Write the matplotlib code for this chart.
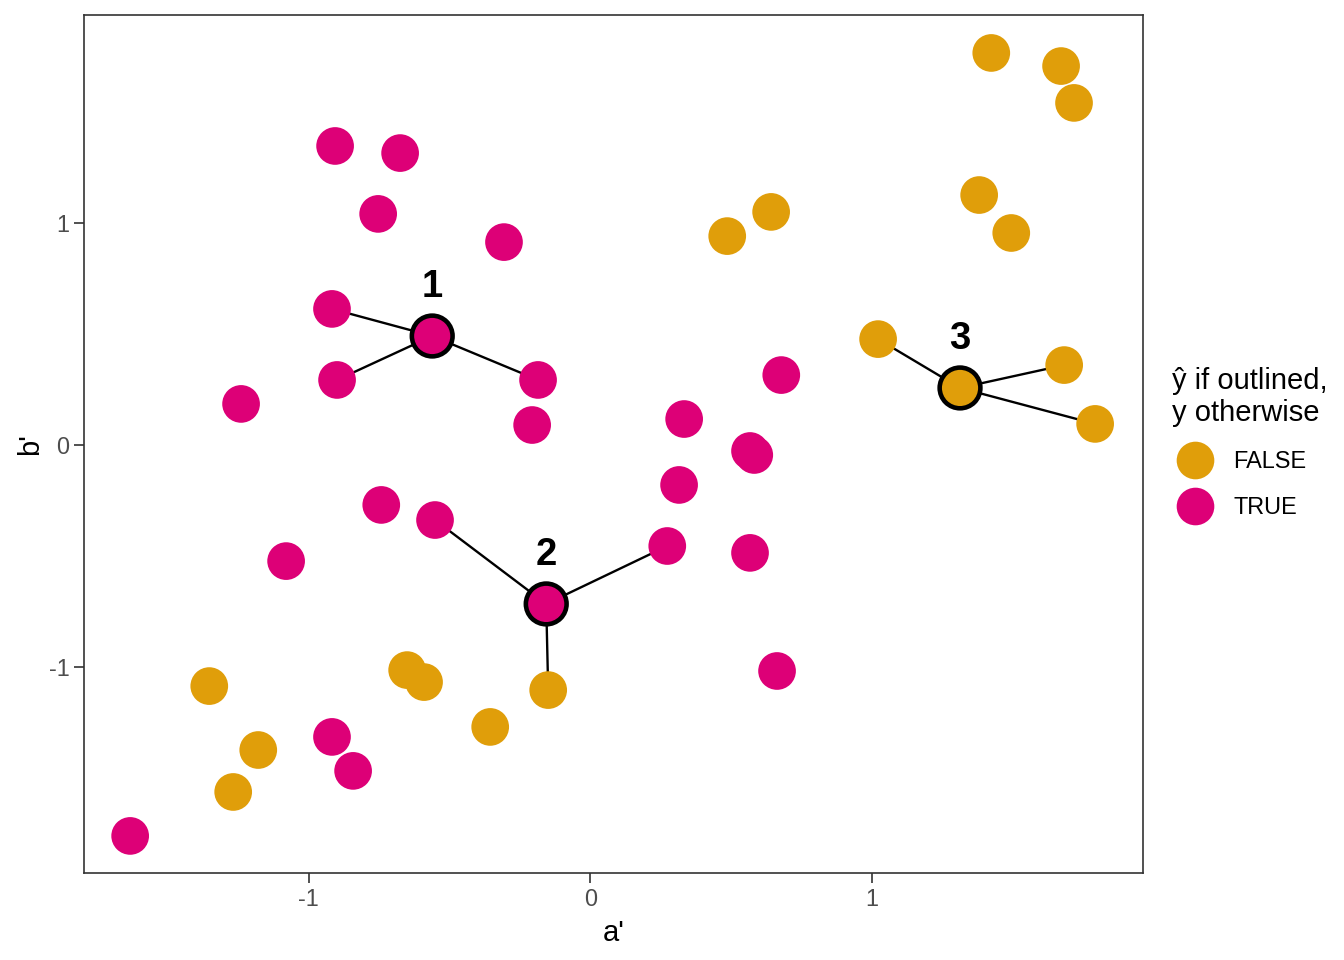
import matplotlib
matplotlib.use("Agg")
import matplotlib.pyplot as plt
from matplotlib.lines import Line2D

plt.rcParams['font.family'] = ['Liberation Sans', 'DejaVu Sans']

# ---- data ----
a_vals = [-0.906, -0.675, -0.753, -0.306, -0.917, -0.899, -0.185, -0.206, -1.240,
          -0.742, -0.551, -1.080, 0.274, 0.316, 0.334, 0.568, 0.583, 0.679, 0.568,
          0.664, -0.917, -0.842, -1.634,
          1.425, 1.673, 1.719, 1.382, 1.496, 0.643, 0.487, 1.023, 1.684, 1.794,
          -1.353, -1.179, -1.268, -0.650, -0.590, -0.355, -0.149]
b_vals = [1.347, 1.315, 1.041, 0.914, 0.613, 0.293, 0.293, 0.090, 0.185,
          -0.270, -0.338, -0.523, -0.455, -0.180, 0.117, -0.027, -0.045, 0.315, -0.486,
          -1.018, -1.315, -1.468, -1.761,
          1.766, 1.707, 1.541, 1.126, 0.955, 1.050, 0.941, 0.477, 0.360, 0.095,
          -1.086, -1.374, -1.563, -1.014, -1.068, -1.270, -1.104]
y_vals = [True] * 23 + [False] * 17

query_a = [-0.561, -0.156, 1.314]
query_b = [0.491, -0.716, 0.257]
query_pred = [True, True, False]
query_labels = ["1", "2", "3"]
query_neighbors = [[4, 5, 6], [10, 12, 39], [30, 31, 32]]

colors = {False: "#E09E0A", True: "#DD0077"}
legend_labels = ["FALSE", "TRUE"]

# ---- figure ----
fig = plt.figure(figsize=(13.44, 9.6), dpi=100)
ax = fig.add_axes([84 / 1344, 87 / 960, (1143 - 84) / 1344, (873 - 15) / 960])

# segments from query points to neighbours
for qa, qb, nbrs in zip(query_a, query_b, query_neighbors):
    for n in nbrs:
        ax.plot([qa, a_vals[n]], [qb, b_vals[n]], color="black", lw=1.7, zorder=1,
                solid_capstyle="butt")

# points
ax.scatter(a_vals, b_vals, s=736, c=[colors[v] for v in y_vals],
           edgecolors="none", zorder=2)

# outlined query points
ax.scatter(query_a, query_b, s=860, c=[colors[v] for v in query_pred],
           edgecolors="black", linewidths=3.3, zorder=3)

for qa, qb, lab in zip(query_a, query_b, query_labels):
    ax.text(qa, qb + 0.176, lab, ha="center", va="baseline", fontsize=27.5,
            fontweight="bold", color="black", zorder=4)

ax.set_xlim(-1.798, 1.964)
ax.set_ylim(-1.928, 1.937)
ax.set_xticks([-1, 0, 1])
ax.set_yticks([-1, 0, 1])
ax.set_xticklabels(["-1", "0", "1"])
ax.set_yticklabels(["-1", "0", "1"])
ax.tick_params(axis="both", length=7, width=1.2, color="#333333",
               labelsize=16.9, labelcolor="#4D4D4D", pad=3.5)
for sp in ax.spines.values():
    sp.set_color("#333333")
    sp.set_linewidth(1.2)

ax.set_xlabel("a'", fontsize=21, color="black", labelpad=6)
ax.set_ylabel("b'", fontsize=21, color="black", labelpad=3)

handles = [Line2D([], [], marker="o", linestyle="", markersize=27.1,
                  markerfacecolor=colors[v], markeredgecolor="none")
           for v in [False, True]]
leg = fig.legend(handles, legend_labels, title="ŷ if outlined,\ny otherwise",
                 loc="upper left", bbox_to_anchor=(1172 / 1344, (960 - 367) / 960),
                 frameon=False, fontsize=16.9, title_fontsize=21,
                 handlelength=2.0, handletextpad=0.6, labelspacing=0.98,
                 borderpad=0, borderaxespad=0, alignment="left")
leg._legend_handle_box.sep = 8

fig.savefig("out.png", dpi=100)
